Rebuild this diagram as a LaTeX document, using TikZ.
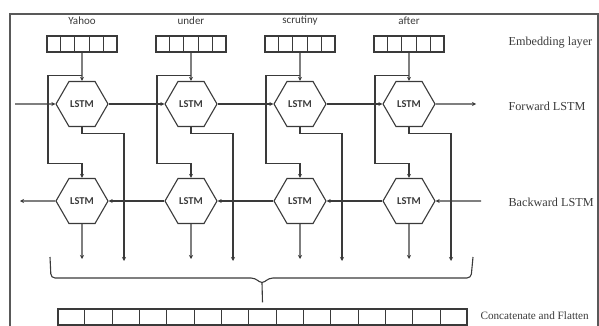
\documentclass[tikz,border=0pt]{standalone}
\usepackage{fontspec}
\setmainfont{Liberation Serif}
\newfontfamily\wordfont{Carlito}
\usetikzlibrary{arrows.meta,positioning,calc,shapes.geometric}
\definecolor{lstmInk}{HTML}{3A3A3A}
\definecolor{lstmFrame}{HTML}{595959}

\begin{document}
\begin{tikzpicture}[x=1pt,y=-1pt,color=lstmInk,line width=1.1pt,>={Stealth[length=4pt,width=4pt]},
    cellbox/.style={draw,inner sep=0pt,minimum height=16pt},
    lstm/.style={draw,regular polygon,regular polygon sides=6,minimum size=52pt,inner sep=0pt,
                 font=\wordfont\fontsize{10.5}{12}\selectfont\bfseries},
    word/.style={font=\wordfont\fontsize{11}{13}\selectfont},
    side/.style={anchor=west,inner sep=2pt,font=\fontsize{12.2}{14}\selectfont}]
  \useasboundingbox (0,0) rectangle (599,326);
  \draw[lstmFrame,line width=1.8pt] (10,340) |- (598,14) -- (598,340);

  % one column per word
  \foreach \lbl [count=\i from 0] in {Yahoo,under,scrutiny,after} {
    \pgfmathsetmacro\cx{82+109*\i}
    \node[word] (w\i) at (\cx,21) {\lbl};
    \node[cellbox,minimum width=70pt] (emb\i) at (\cx,44) {};
    \foreach \k in {1,...,4}
      \draw ($(emb\i.north west)!\k/5!(emb\i.north east)$) -- ($(emb\i.south west)!\k/5!(emb\i.south east)$);
    \node[lstm] (fw\i) at (\cx,104) {LSTM};
    \node[lstm] (bw\i) at (\cx,201) {LSTM};
    \coordinate (fo\i) at (\cx+42,261);
    \coordinate (bo\i) at (\cx,259);
    \draw[->] (emb\i.south) -- (fw\i.north);
    \draw[->] ($(emb\i.south)+(0,23)$) -- ++(-34,0) |- ($(bw\i.north)+(0,-14)$) -- (bw\i.north);
    \draw[->] (fw\i.south) -- ++(0,6) -| (fo\i);
    \draw[->] (bw\i.south) -- (bo\i);
  }

  % recurrent links
  \coordinate (fin) at (15,104);
  \coordinate (fout) at (476,104);
  \coordinate (bin) at (481,201);
  \coordinate (bout) at (20,201);
  \draw[->] (fin) -- (fw0.west);
  \foreach \i/\j in {0/1,1/2,2/3} {
    \draw[->] (fw\i.east) -- (fw\j.west);
    \draw[->] (bw\j.west) -- (bw\i.east);
  }
  \draw[->] (fw3.east) -- (fout);
  \draw[->] (bin) -- (bw3.east);
  \draw[->] (bw0.west) -- (bout);

  % brace and flattened vector
  \draw[rounded corners=4pt] (50,257) -- (51,278) -- (255,278) -- (262,284) -- (269,278) -- (471,278) -- (473,257);
  \node[cellbox,minimum width=409pt] (flat) at (262.5,317) {};
  \foreach \k in {1,...,14}
    \draw ($(flat.north west)!\k/15!(flat.north east)$) -- ($(flat.south west)!\k/15!(flat.south east)$);
  \coordinate (tip) at (262,283);
  \draw (tip) -- ($(flat.north)+(0,-6)$);

  \node[side] (lblEmb) at (506,43) {Embedding layer};
  \node[side] (lblFw) at (506,106) {Forward LSTM};
  \node[side] (lblBw) at (506,202) {Backward LSTM};
  \node[side,font=\fontsize{11.2}{13}\selectfont] (lblFlat) at (478,316) {Concatenate and Flatten};
\end{tikzpicture}
\end{document}
